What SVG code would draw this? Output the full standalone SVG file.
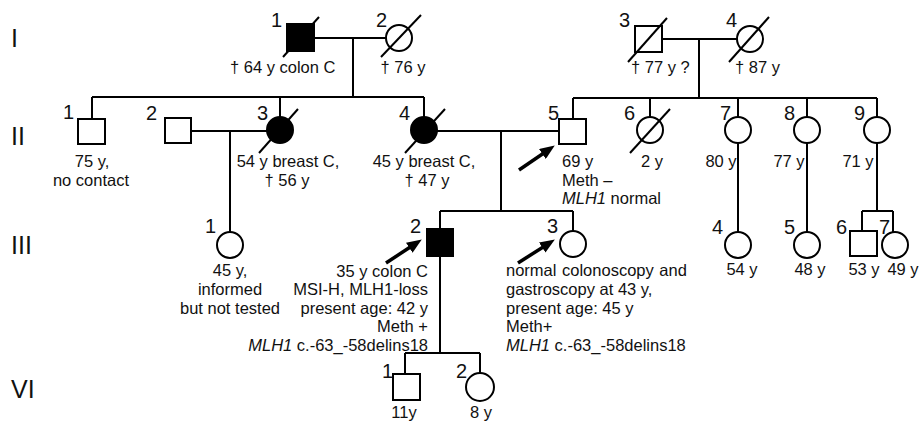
<svg xmlns="http://www.w3.org/2000/svg" width="919" height="422" viewBox="0 0 919 422">
<style>
.s{fill:#fff;stroke:#000;stroke-width:2}
.a{fill:#000;stroke:#000;stroke-width:2}
.l{stroke:#000;stroke-width:2;fill:none}
.d{stroke:#000;stroke-width:2}
text{font-family:"Liberation Sans",Arial,sans-serif;fill:#111}
.t{font-size:16.5px}
.n{font-size:20px}
.g{font-size:25px}
.m{text-anchor:middle}
.e{text-anchor:end}
.arr{stroke:#000;stroke-width:3.5;marker-end:url(#ah)}
</style>
<defs>
<marker id="ah" markerUnits="userSpaceOnUse" markerWidth="16" markerHeight="12" refX="4" refY="6" orient="auto">
<path d="M0,0 L15,6 L0,12 z" fill="#000"/>
</marker>
</defs>
<rect width="919" height="422" fill="#fff"/>
<g id="gen-labels">
<text class="g" x="11" y="47">I</text>
<text class="g" x="11" y="145">II</text>
<text class="g" x="11" y="254">III</text>
<text class="g" x="11" y="398">VI</text>
</g>
<g id="connectors">
<path class="l" d="M314,38 H386 M353,38 V97 M92,97 H424 M92,97 V119 M280,97 V117 M424,97 V117"/>
<path class="l" d="M662,39 H737 M699,39 V98 M573,98 H877 M573,98 V119 M650,98 V117 M738,98 V117 M807,98 V117 M877,98 V117"/>
<path class="l" d="M191,131 H267 M230,131 V232"/>
<path class="l" d="M437,131 H559 M501,131 V211 M440,211 H573 M440,211 V229 M573,211 V231"/>
<path class="l" d="M738,143 V232 M807,143 V232 M877,143 V211 M862,211 H893 M862,211 V231 M893,211 V232"/>
<path class="l" d="M440,256 V353 M405,353 H480 M405,353 V374 M480,353 V373"/>
<line class="arr" x1="519" y1="170" x2="545.7" y2="151.7"/>
<line class="arr" x1="386" y1="263" x2="412.6" y2="245.5"/>
<line class="arr" x1="518" y1="263" x2="545.6" y2="245.4"/>
</g>
<g id="I-1"><rect class="a" x="287" y="24" width="27" height="27"/><line class="d" x1="283" y1="57" x2="319" y2="17"/><text class="n" x="271" y="27">1</text><text class="t" x="230" y="73">† 64 y colon C</text></g>
<g id="I-2"><circle class="s" cx="399" cy="38" r="13"/><line class="d" x1="381" y1="57" x2="421" y2="15"/><text class="n" x="376" y="27">2</text><text class="t m" x="403" y="73">† 76 y</text></g>
<g id="I-3"><rect class="s" x="635" y="26" width="27" height="26"/><line class="d" x1="628" y1="62" x2="667" y2="18"/><text class="n" x="619" y="27">3</text><text class="t" x="631" y="73">† 77 y ?</text></g>
<g id="I-4"><circle class="s" cx="750" cy="39" r="13"/><line class="d" x1="729" y1="62" x2="769" y2="17"/><text class="n" x="726" y="27">4</text><text class="t" x="735" y="73">† 87 y</text></g>
<g id="II-1"><rect class="s" x="78" y="119" width="27" height="25"/><text class="n" x="63" y="119">1</text><text class="t m" x="92" y="167">75 y,</text><text class="t m" x="91" y="186">no contact</text></g>
<g id="II-2"><rect class="s" x="165" y="118" width="26" height="25"/><text class="n" x="146" y="120">2</text></g>
<g id="II-3"><circle class="a" cx="280" cy="130" r="13"/><line class="d" x1="259" y1="153" x2="298" y2="109"/><text class="n" x="257" y="120">3</text><text class="t m" x="288" y="167">54 y breast C,</text><text class="t m" x="287" y="186">† 56 y</text></g>
<g id="II-4"><circle class="a" cx="424" cy="130" r="13"/><line class="d" x1="405" y1="153" x2="445" y2="109"/><text class="n" x="399" y="120">4</text><text class="t m" x="424" y="167">45 y breast C,</text><text class="t m" x="427" y="186">† 47 y</text></g>
<g id="II-5"><rect class="s" x="559" y="119" width="27" height="25"/><text class="n" x="548" y="120">5</text><text class="t" x="562" y="167">69 y</text><text class="t" x="562" y="186">Meth –</text><text class="t" x="562" y="204"><tspan font-style="italic">MLH1</tspan> normal</text></g>
<g id="II-6"><circle class="s" cx="650" cy="130" r="13"/><line class="d" x1="630" y1="153" x2="670" y2="109"/><text class="n" x="624" y="120">6</text><text class="t m" x="652" y="167">2 y</text></g>
<g id="II-7"><circle class="s" cx="738" cy="130" r="13"/><text class="n" x="720" y="120">7</text><text class="t m" x="721" y="167">80 y</text></g>
<g id="II-8"><circle class="s" cx="807" cy="130" r="13"/><text class="n" x="784" y="120">8</text><text class="t m" x="789" y="167">77 y</text></g>
<g id="II-9"><circle class="s" cx="877" cy="130" r="13"/><text class="n" x="854" y="120">9</text><text class="t m" x="858" y="167">71 y</text></g>
<g id="III-1"><circle class="s" cx="230" cy="245" r="13"/><text class="n" x="205" y="233">1</text><text class="t m" x="230" y="276">45 y,</text><text class="t m" x="230" y="295">informed</text><text class="t m" x="230" y="314">but not tested</text></g>
<g id="III-2"><rect class="a" x="427" y="229" width="26" height="27"/><text class="n" x="410" y="233">2</text><text class="t e" x="428" y="277">35 y colon C</text><text class="t e" x="428" y="295">MSI-H, MLH1-loss</text><text class="t e" x="428" y="314">present age: 42 y</text><text class="t e" x="428" y="332">Meth +</text><text class="t e" x="428" y="351"><tspan font-style="italic">MLH1</tspan> c.-63_-58delins18</text></g>
<g id="III-3"><circle class="s" cx="573" cy="244" r="13"/><text class="n" x="547" y="233">3</text><text class="t" x="506" y="276" word-spacing="1">normal colonoscopy and</text><text class="t" x="506" y="295">gastroscopy at 43 y,</text><text class="t" x="506" y="314">present age: 45 y</text><text class="t" x="506" y="332">Meth+</text><text class="t" x="506" y="351"><tspan font-style="italic">MLH1</tspan> c.-63_-58delins18</text></g>
<g id="III-4"><circle class="s" cx="738" cy="245" r="13"/><text class="n" x="712" y="234">4</text><text class="t m" x="742" y="275">54 y</text></g>
<g id="III-5"><circle class="s" cx="807" cy="245" r="13"/><text class="n" x="784" y="234">5</text><text class="t m" x="810" y="275">48 y</text></g>
<g id="III-6"><rect class="s" x="850" y="231" width="27" height="25"/><text class="n" x="836" y="234">6</text><text class="t m" x="864" y="275">53 y</text></g>
<g id="III-7"><circle class="s" cx="895" cy="245" r="13"/><text class="n" x="879" y="234">7</text><text class="t m" x="903" y="275">49 y</text></g>
<g id="IV-1"><rect class="s" x="393" y="374" width="27" height="26"/><text class="n" x="382" y="378">1</text><text class="t m" x="404" y="418">11y</text></g>
<g id="IV-2"><circle class="s" cx="480" cy="387" r="14"/><text class="n" x="456" y="378">2</text><text class="t m" x="481" y="418">8 y</text></g>
</svg>
